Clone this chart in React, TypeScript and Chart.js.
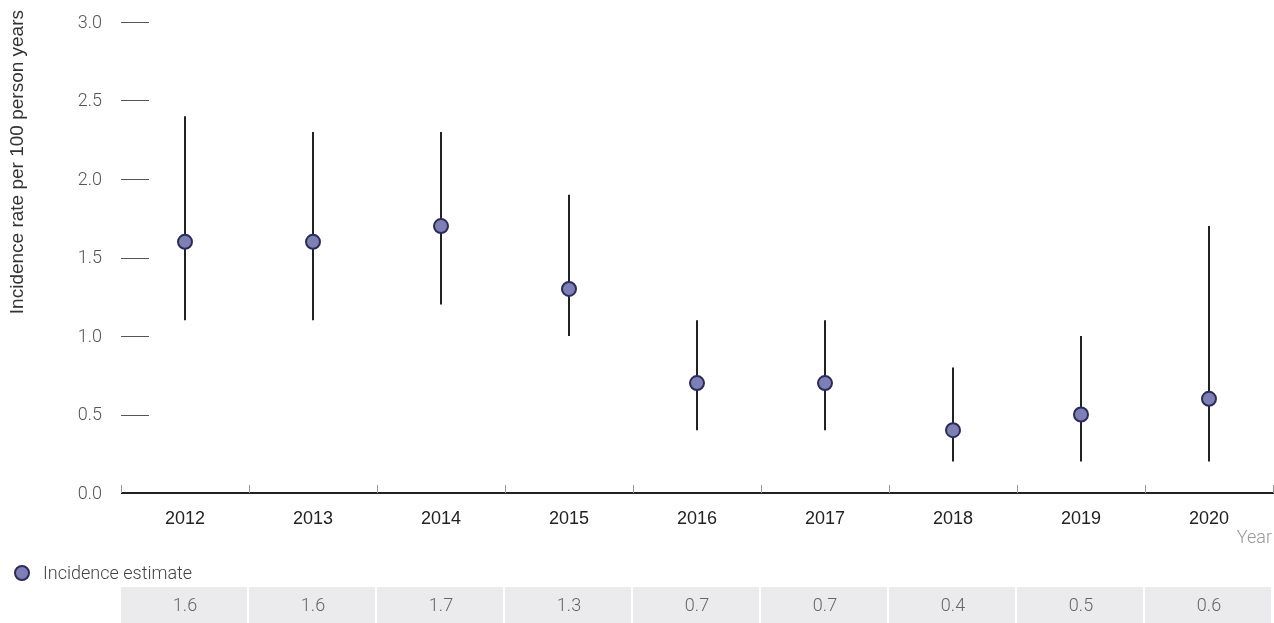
import React, { useEffect, useRef } from "react";
import { Chart, registerables } from "chart.js";

Chart.register(...registerables);

const years = ["2012", "2013", "2014", "2015", "2016", "2017", "2018", "2019", "2020"];
const estimates = [1.6, 1.6, 1.7, 1.3, 0.7, 0.7, 0.4, 0.5, 0.6];
const lowerCI = [1.1, 1.1, 1.2, 1.0, 0.4, 0.4, 0.2, 0.2, 0.2];
const upperCI = [2.4, 2.3, 2.3, 1.9, 1.1, 1.1, 0.8, 1.0, 1.7];
const seriesLabel = "Incidence estimate";
const yTitle = "Incidence rate per 100 person years";
const xTitle = "Year";

const ROBOTO = "Roboto, 'Liberation Sans', Arial, sans-serif";
const ARIAL = "'Liberation Sans', Arial, sans-serif";
const POINT_FILL = "#7f7fb8";
const POINT_BORDER = "#2b2b5c";

const extrasPlugin = {
  id: "extras",
  beforeDatasetsDraw(chart: any) {
    const { ctx, chartArea } = chart;
    const x = chart.scales.x;
    const y = chart.scales.y;
    ctx.save();
    // y tick marks inside the plot + labels
    ctx.strokeStyle = "#555";
    ctx.lineWidth = 1;
    ctx.fillStyle = "#555";
    ctx.font = "300 18px " + ROBOTO;
    ctx.textAlign = "right";
    ctx.textBaseline = "middle";
    y.ticks.forEach((t: any) => {
      const yp = y.getPixelForValue(t.value);
      ctx.fillText(Number(t.value).toFixed(1), 102, yp + 1);
      if (t.value === 0) return;
      const py = Math.round(yp) + 0.5;
      ctx.beginPath();
      ctx.moveTo(chartArea.left, py);
      ctx.lineTo(chartArea.left + 28, py);
      ctx.stroke();
    });
    // x axis line
    ctx.strokeStyle = "#222";
    ctx.lineWidth = 2;
    ctx.beginPath();
    ctx.moveTo(chartArea.left, chartArea.bottom);
    ctx.lineTo(chartArea.right + 1, chartArea.bottom);
    ctx.stroke();
    // x category boundary ticks
    ctx.strokeStyle = "#999";
    ctx.lineWidth = 1;
    const half = (x.getPixelForValue(1) - x.getPixelForValue(0)) / 2;
    for (let i = 0; i <= years.length; i++) {
      const px = Math.min(Math.round(x.getPixelForValue(i) - half) + 0.5, chartArea.right + 0.5);
      ctx.beginPath();
      ctx.moveTo(px, chartArea.bottom - 8);
      ctx.lineTo(px, chartArea.bottom);
      ctx.stroke();
    }
    // x labels
    ctx.fillStyle = "#222";
    ctx.font = "18px " + ARIAL;
    ctx.textAlign = "center";
    ctx.textBaseline = "middle";
    years.forEach((lab, i) => {
      ctx.fillText(lab, x.getPixelForValue(i), 519);
    });
    // error bars
    ctx.strokeStyle = "#222";
    ctx.lineWidth = 2;
    years.forEach((_, i) => {
      const px = Math.round(x.getPixelForValue(i));
      ctx.beginPath();
      ctx.moveTo(px, y.getPixelForValue(lowerCI[i]));
      ctx.lineTo(px, y.getPixelForValue(upperCI[i]));
      ctx.stroke();
    });
    ctx.restore();
  },
  afterDraw(chart: any) {
    const { ctx } = chart;
    const x = chart.scales.x;
    ctx.save();
    // y title
    ctx.fillStyle = "#333";
    ctx.font = "19px " + ARIAL;
    ctx.translate(18, 10);
    ctx.rotate(-Math.PI / 2);
    ctx.textAlign = "right";
    ctx.textBaseline = "middle";
    ctx.fillText(yTitle, 0, 0);
    ctx.restore();

    ctx.save();
    // x title
    ctx.fillStyle = "#999";
    ctx.font = "300 18px " + ROBOTO;
    ctx.textAlign = "right";
    ctx.textBaseline = "middle";
    ctx.fillText(xTitle, 1272, 538);

    // legend
    ctx.beginPath();
    ctx.arc(22, 573, 7, 0, Math.PI * 2);
    ctx.fillStyle = POINT_FILL;
    ctx.fill();
    ctx.lineWidth = 2;
    ctx.strokeStyle = POINT_BORDER;
    ctx.stroke();
    ctx.fillStyle = "#444";
    ctx.textAlign = "left";
    ctx.fillText(chart.data.datasets[0].label, 43, 574);

    // table
    const half = (x.getPixelForValue(1) - x.getPixelForValue(0)) / 2;
    estimates.forEach((v, i) => {
      const c = x.getPixelForValue(i);
      const l = Math.round(c - half);
      const r = Math.round(c + half);
      ctx.fillStyle = "#ebebed";
      ctx.fillRect(l, 587, r - l - 2, 40);
      ctx.fillStyle = "#666";
      ctx.textAlign = "center";
      ctx.fillText(v.toFixed(1), c, 606);
    });
    ctx.restore();
  },
};

export default function App() {
  const ref = useRef<HTMLCanvasElement>(null);
  useEffect(() => {
    if (!ref.current) return;
    const chart = new Chart(ref.current, {
      type: "line",
      data: {
        labels: years,
        datasets: [
          {
            label: seriesLabel,
            data: estimates,
            showLine: false,
            pointRadius: 7,
            pointHoverRadius: 7,
            pointBorderWidth: 2,
            pointBackgroundColor: POINT_FILL,
            pointBorderColor: POINT_BORDER,
            backgroundColor: POINT_FILL,
            borderColor: POINT_BORDER,
          },
        ],
      },
      options: {
        responsive: false,
        animation: false,
        layout: { autoPadding: false, padding: { top: 22, right: 1, left: 121, bottom: 130 } },
        plugins: { legend: { display: false }, tooltip: { enabled: false } },
        scales: {
          x: {
            type: "category",
            offset: true,
            display: false,
          },
          y: {
            min: 0,
            max: 3,
            display: false,
            ticks: { stepSize: 0.5 },
          },
        },
      },
      plugins: [extrasPlugin],
    } as any);
    return () => chart.destroy();
  }, []);
  return (
    <div style={{ position: "absolute", left: 0, top: 0, width: 1274, height: 623, background: "#fff" }}>
      <canvas ref={ref} width={1274} height={623} />
    </div>
  );
}
